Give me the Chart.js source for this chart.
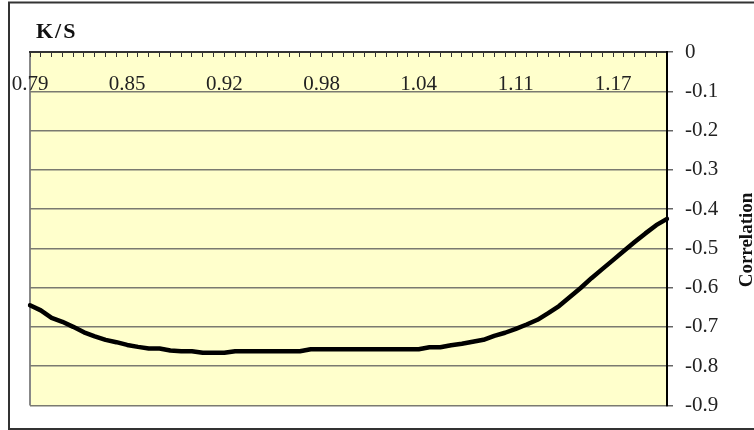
<!DOCTYPE html>
<html>
<head>
<meta charset="utf-8">
<script src="https://cdn.jsdelivr.net/npm/chart.js@4.4.1/dist/chart.umd.min.js"></script>
<style>
  html, body { margin: 0; padding: 0; background: #fff; }
  canvas { display: block; }
</style>
</head>
<body>
<canvas id="chart" width="754" height="430"></canvas>
<script>
// K/S categories (x axis, shown at the top)
const ksValues = [
    0.790, 0.797, 0.804, 0.811, 0.818, 0.825, 0.832, 0.839, 0.846, 0.853,
    0.860, 0.867, 0.874, 0.881, 0.888, 0.895, 0.902, 0.909, 0.916, 0.923,
    0.930, 0.937, 0.944, 0.951, 0.958, 0.965, 0.972, 0.979, 0.986, 0.993,
    1.000, 1.007, 1.014, 1.021, 1.028, 1.035, 1.042, 1.049, 1.056, 1.063,
    1.070, 1.077, 1.084, 1.091, 1.098, 1.105, 1.112, 1.119, 1.126, 1.133,
    1.140, 1.147, 1.154, 1.161, 1.168, 1.175, 1.182, 1.189, 1.196, 1.203
];

// correlation
const correlation = [
    -0.645, -0.658, -0.677, -0.687, -0.700, -0.714, -0.724, -0.733, -0.739, -0.746,
    -0.751, -0.755, -0.755, -0.760, -0.762, -0.762, -0.766, -0.766, -0.766, -0.762,
    -0.762, -0.762, -0.762, -0.762, -0.762, -0.762, -0.757, -0.757, -0.757, -0.757,
    -0.757, -0.757, -0.757, -0.757, -0.757, -0.757, -0.757, -0.752, -0.752, -0.747,
    -0.743, -0.738, -0.733, -0.723, -0.715, -0.705, -0.694, -0.682, -0.665, -0.647,
    -0.624, -0.601, -0.576, -0.553, -0.530, -0.507, -0.484, -0.462, -0.441, -0.425
];

// one label every 9 categories
const xTickLabels = ["0.79", "0.85", "0.92", "0.98", "1.04", "1.11", "1.17"];
const labelEvery = 9;

const xTitle = "K/S";
const yTitle = "Correlation";

Chart.defaults.font.family = '"Liberation Serif", "Times New Roman", serif';

// fond blanc, cadre extérieur et zone jaune
const plotBackground = {
    id: "plotBackground",
    beforeDraw(chart) {
        const { ctx, chartArea: a } = chart;
        ctx.save();
        ctx.fillStyle = "#ffffff";
        ctx.fillRect(0, 0, chart.width, chart.height);
        ctx.strokeStyle = "#333333";
        ctx.lineWidth = 2;
        ctx.strokeRect(9, 2.5, 760, 426.5);
        ctx.fillStyle = "#FFFFCC";
        ctx.fillRect(a.left, a.top, a.right - a.left, a.bottom - a.top);
        ctx.strokeStyle = "#888888";
        ctx.lineWidth = 2;
        ctx.beginPath();
        ctx.moveTo(a.left, a.top);
        ctx.lineTo(a.left, a.bottom);
        ctx.stroke();
        ctx.restore();
    }
};

// axis titles: K/S top-left, Correlation rotated on the right
const axisTitles = {
    id: "axisTitles",
    afterDraw(chart) {
        const ctx = chart.ctx;
        ctx.save();
        ctx.fillStyle = "#111111";
        ctx.textBaseline = "alphabetic";
        ctx.font = 'bold 22px "Liberation Serif"';
        ctx.letterSpacing = "2px";
        ctx.fillText(xTitle, 36, 38);
        ctx.letterSpacing = "0px";
        ctx.translate(752, 240);
        ctx.rotate(-Math.PI / 2);
        ctx.textAlign = "center";
        ctx.font = 'bold 19px "Liberation Serif"';
        ctx.fillText(yTitle, 0, 0);
        ctx.restore();
    }
};

const ctx = document.getElementById("chart").getContext("2d");

new Chart(ctx, {
    type: "line",
    data: {
        labels: ksValues,
        datasets: [
            {
                label: yTitle,
                data: correlation,
                borderColor: "#000000",
                borderWidth: 4.5,
                pointRadius: 0,
                tension: 0,
                borderJoinStyle: "round",
                borderCapStyle: "round",
                fill: false,
            },
        ],
    },
    options: {
        responsive: false,
        animation: false,
        devicePixelRatio: 1,
        layout: {
            padding: { left: 30, top: 52, right: 0, bottom: 22 },
        },
        plugins: {
            legend: { display: false },
            tooltip: { enabled: false },
        },
        scales: {
            x: {
                type: "category",
                position: "top",
                offset: false,
                grid: {
                    drawOnChartArea: false,
                    drawTicks: true,
                    tickLength: -5,
                    color: "#333333",
                    lineWidth: 1,
                },
                border: { display: true, color: "#333333", width: 2 },
                ticks: {
                    autoSkip: false,
                    mirror: true,
                    maxRotation: 0,
                    minRotation: 0,
                    padding: 20,
                    color: "#222222",
                    font: { size: 21 },
                    callback: (value, index) =>
                        index % labelEvery === 0 ? xTickLabels[index / labelEvery] : "",
                },
                afterFit: (scale) => {
                    // labels sit inside the plot, so the axis takes no room
                    scale.height = 0;
                    scale.paddingLeft = 0;
                    scale.paddingRight = 0;
                },
            },
            y: {
                position: "right",
                min: -0.9,
                max: 0,
                ticks: {
                    stepSize: 0.1,
                    padding: 12,
                    color: "#222222",
                    font: { size: 21 },
                },
                grid: {
                    color: (c) => (c.tick && c.tick.value === 0 ? "rgba(0,0,0,0)" : "#7a7a70"),
                    tickColor: "#666666",
                    lineWidth: 1.5,
                    tickLength: 6,
                },
                border: { color: "#000000", width: 2 },
                afterFit: (scale) => {
                    scale.width = 87;
                },
            },
        },
    },
    plugins: [plotBackground, axisTitles],
});
</script>
</body>
</html>
